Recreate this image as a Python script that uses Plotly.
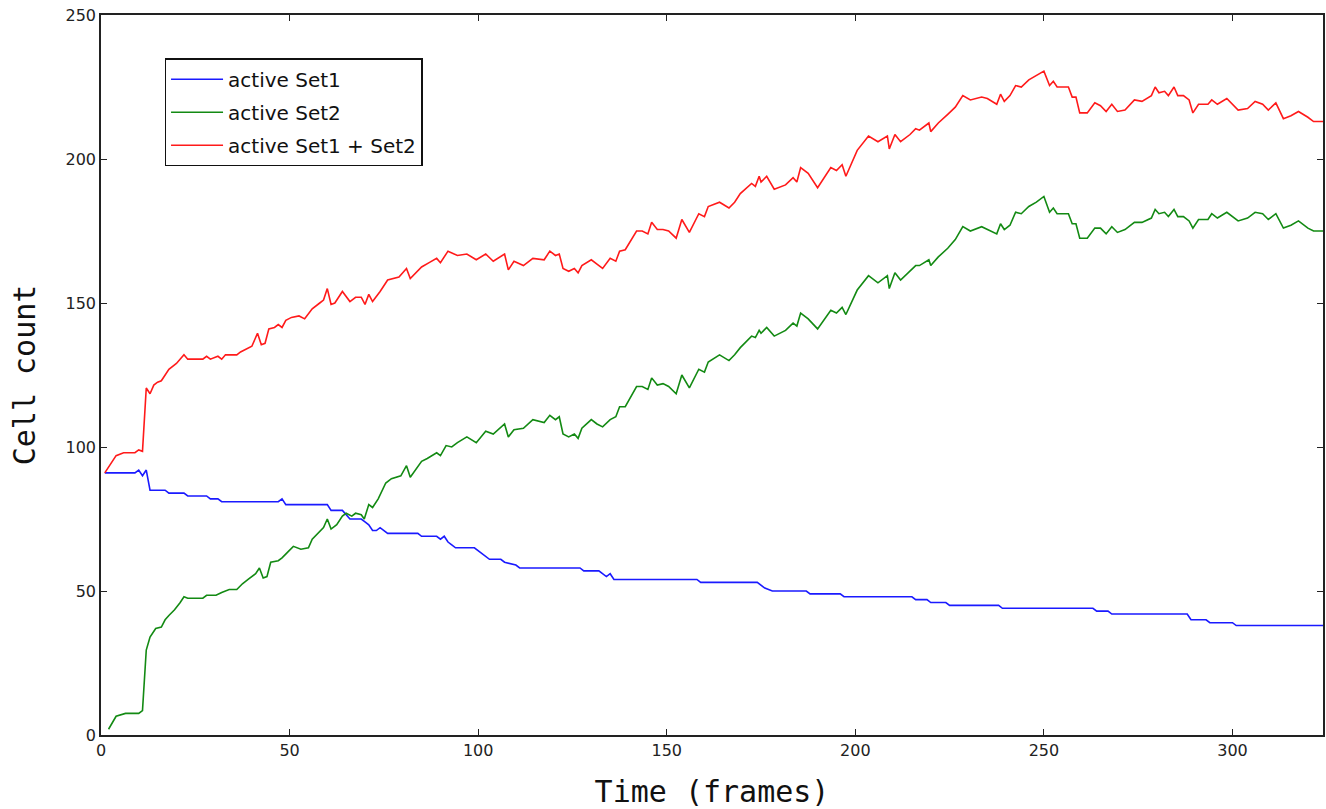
import plotly.graph_objects as go

# ---- data ----
blue_x = [1, 9, 10, 11, 12, 13, 17, 18, 22, 23, 28, 29, 31, 32, 47, 48, 49, 60,
          61, 64, 66, 69, 70, 71, 72, 73, 74, 76, 84, 85, 89, 90, 91, 92, 93, 94,
          99, 101, 102, 103, 106, 107, 110, 111, 127, 128, 132, 133, 134, 135, 136,
          158, 159, 174, 175, 176, 178, 187, 188, 196, 197, 215, 216, 219, 220, 224,
          225, 238, 239, 263, 264, 267, 268, 288, 289, 293, 294, 300, 301, 324]
blue_y = [91, 91, 92, 90, 92, 85, 85, 84, 84, 83, 83, 82, 82, 81, 81, 82, 80, 80,
          78, 78, 75, 75, 74, 73, 71, 71, 72, 70, 70, 69, 69, 68, 69, 67, 66, 65,
          65, 63, 62, 61, 61, 60, 59, 58, 58, 57, 57, 56, 55, 56, 54,
          54, 53, 53, 52, 51, 50, 50, 49, 49, 48, 48, 47, 47, 46, 46,
          45, 45, 44, 44, 43, 43, 42, 42, 40, 40, 39, 39, 38, 38]

green_pts = [
    (2, 2), (4, 6.5), (6.5, 7.5), (10, 7.5), (11, 8.5), (12, 29.5), (13, 34), (14.5, 37),
    (16, 37.5), (17, 40), (18, 41.5), (19.5, 43.5), (21, 46), (22, 48), (23, 47.5), (27, 47.5),
    (28, 48.5), (30.5, 48.5), (32, 49.5), (34, 50.5), (36, 50.5), (37.5, 52.5), (39, 54), (41, 56),
    (42, 58), (43, 54.5), (44, 55), (45, 60), (47, 60.5), (48, 61.5), (49.5, 63.5), (51, 65.5),
    (53, 64.5), (55, 65), (56, 68), (58, 70.5), (59, 72), (60, 75), (61, 71.5), (62.5, 73),
    (64, 76), (65, 77), (66.5, 76), (67.5, 77), (69, 76.5), (69.8, 75), (71, 80), (72, 79),
    (73.5, 82), (75.5, 87.5), (77, 89), (79.5, 90), (81, 93.5), (82, 89.5), (85, 95), (86.5, 96),
    (89, 98), (90, 97), (91.5, 100.5), (93, 100), (94.5, 101.5), (97, 103.5), (99.5, 101.5),
    (102, 105.5), (104, 104.5), (107, 108), (108, 103.5), (109.5, 106), (112, 106.5),
    (114.5, 109.5), (117.5, 108.5), (119, 111), (120.5, 109.5), (121.5, 110.5), (122.5, 104.5),
    (124, 103.5), (125.5, 104.5), (126.5, 103), (127.5, 106.5), (130, 109.5), (131.5, 108),
    (133, 107), (135, 109.5), (136.5, 110.5), (137.5, 114), (139, 114), (142, 121), (143.5, 121),
    (145, 120), (146, 124), (147.5, 121.5), (149, 122), (150.5, 121), (152.5, 118.5), (154, 125),
    (156, 120.5), (158.5, 127), (160, 126), (161, 129.5), (164, 132), (166.5, 130), (168, 132),
    (169.5, 134.5), (172.5, 138.5), (173.5, 138), (174.5, 140.5), (175, 139.5), (176.5, 141.5),
    (178.5, 138.5), (181.5, 140.5), (183.5, 143), (184.5, 142), (185.5, 146.5), (187.5, 144.5),
    (190, 141), (193.5, 147.5), (195, 146.5), (196.5, 148.5), (197.5, 146), (200.5, 154.5),
    (203.5, 159.5), (206, 157), (208.5, 159.5), (209, 155), (210.5, 160.5), (212, 158),
    (214.5, 161), (216, 163), (217, 163), (219.5, 165), (220, 163), (222, 166), (224.5, 169),
    (226.5, 172), (228.5, 176.5), (230.5, 175), (233.5, 176.5), (235, 175.5), (237.5, 174),
    (238.5, 177.5), (239.5, 175.5), (241, 177), (242.5, 181.5), (244, 181), (246, 183.5),
    (248, 185), (250, 187), (251.5, 181.5), (252.5, 183), (253.5, 181), (256.5, 181),
    (257.5, 177.5), (258.5, 177.5), (259.5, 172.5), (261.5, 172.5), (263.5, 176), (265, 176),
    (266.5, 174), (268, 176.5), (269.5, 174.5), (271.5, 175.5), (274, 178), (276, 178),
    (278.5, 179.5), (279.5, 182.5), (280.5, 181), (282, 181.5), (283, 180), (284.5, 182.5),
    (285.5, 180), (287, 180), (288.5, 178.5), (289.5, 176), (291, 179), (293.5, 179),
    (294.5, 181), (296, 179.5), (298.5, 181.5), (301.5, 178.5), (304, 179.5), (306, 181.5),
    (308, 181), (309.5, 179), (311.5, 181), (313.5, 176), (315.5, 177), (317.5, 178.5),
    (320, 176), (321.5, 175), (324, 175),
]

red_pts = [
    (1, 91), (4, 97), (6, 98), (9, 98), (10, 99), (11, 98.5), (12, 120.5), (13, 118.5),
    (14, 121.5), (15, 122.5), (16, 123), (17, 125), (18, 127), (20, 129), (22, 132), (23, 130.5),
    (27, 130.5), (28, 131.5), (29, 130.5), (31, 131.5), (32, 130.5), (33, 132), (36, 132),
    (37, 133), (40, 135), (41.5, 139.5), (42.5, 135.5), (43.5, 136), (44.5, 141), (46, 141.5),
    (47, 142.5), (48, 141.5), (49, 144), (50.5, 145), (52.5, 145.5), (54, 144.5), (56, 148),
    (58, 150), (59, 151), (60, 155), (61, 149.5), (62, 150), (64, 154), (66, 150.5),
    (67.5, 152), (69, 152), (70, 149.5), (71, 153), (72, 150.5), (74, 154), (76, 158), (79, 159),
    (81, 162), (82, 158.5), (85, 162.5), (87, 164), (89, 165.5), (90, 164), (92, 168),
    (94.5, 166.5), (97, 167), (99.5, 165), (102, 167), (104, 164.5), (107, 167), (108, 161.5),
    (109.5, 164.5), (112, 163), (114.5, 165.5), (117.5, 165), (119, 168), (120.5, 166.5),
    (121.5, 167), (122.5, 162), (124, 161), (125.5, 162), (126.5, 160.5), (127.5, 163),
    (130, 165), (131.5, 163.5), (133, 162), (135, 165.5), (136.5, 164.5), (137.5, 168),
    (139, 168.5), (142, 175), (143.5, 175), (145, 174), (146, 178), (147.5, 175.5), (149, 175.5),
    (150.5, 175), (152.5, 172.5), (154, 179), (156, 174.5), (158.5, 181), (160, 180),
    (161, 183.5), (164, 185), (166.5, 183), (168, 185), (169.5, 188), (172.5, 191.5),
    (173.5, 190.5), (174.5, 194), (175, 192), (176.5, 194), (178.5, 189.5), (181.5, 191),
    (183.5, 193.5), (184.5, 192), (185.5, 197), (187.5, 195), (190, 190), (193.5, 197),
    (195, 196), (196.5, 198), (197.5, 194), (200.5, 203), (203.5, 208), (206, 206),
    (208.5, 208), (209, 203.5), (210.5, 208.5), (212, 206), (214.5, 208.5), (216, 210.5),
    (217, 210), (219.5, 212.5), (220, 209.5), (222, 212.5), (224.5, 215.5), (226.5, 218),
    (228.5, 222), (230.5, 220.5), (233.5, 221.5), (235, 221), (237.5, 219), (238.5, 222.5),
    (239.5, 220), (241, 222), (242.5, 225.5), (244, 225), (246, 227.5), (248, 229),
    (250, 230.5), (251.5, 225.5), (252.5, 227), (253.5, 225), (256.5, 225), (257.5, 221.5),
    (258.5, 221.5), (259.5, 216), (261.5, 216), (263.5, 219.5), (265, 218.5), (266.5, 216.5),
    (268, 219), (269.5, 216.5), (271.5, 217), (274, 220.5), (276, 220), (278.5, 222),
    (279.5, 225), (280.5, 223), (282, 223.5), (283, 222), (284.5, 225), (285.5, 222),
    (287, 222), (288.5, 220.5), (289.5, 216), (291, 219), (293.5, 219), (294.5, 220.5),
    (296, 219), (298.5, 221), (301.5, 217), (304, 217.5), (306, 220), (308, 219),
    (309.5, 217), (311.5, 219.5), (313.5, 214), (315.5, 215), (317.5, 216.5), (320, 214.5),
    (321.5, 213), (324, 213),
]
green_x = [p[0] for p in green_pts]
green_y = [p[1] for p in green_pts]
red_x = [p[0] for p in red_pts]
red_y = [p[1] for p in red_pts]

x_ticks = [0, 50, 100, 150, 200, 250, 300]
y_ticks = [0, 50, 100, 150, 200, 250]

fig = go.Figure()
fig.add_trace(go.Scatter(x=blue_x, y=blue_y, mode="lines", name="active Set1",
                         legendgroup="a", line=dict(color="#1a1aff", width=1.6)))
fig.add_trace(go.Scatter(x=green_x, y=green_y, mode="lines", name="active Set2",
                         legendgroup="b", line=dict(color="#138a13", width=1.6)))
fig.add_trace(go.Scatter(x=red_x, y=red_y, mode="lines", name="active Set1 + Set2",
                         legendgroup="c", line=dict(color="#ff1a1a", width=1.6)))

axis_common = dict(showgrid=False, zeroline=False, showline=True, linecolor="#222",
                   linewidth=1.5, mirror="ticks", ticks="inside", ticklen=6,
                   tickcolor="#222", tickwidth=1,
                   tickfont=dict(family="DejaVu Sans", size=16, color="#222"))

fig.update_layout(
    width=1326, height=809,
    margin=dict(l=101, r=1, t=15, b=74),
    paper_bgcolor="white", plot_bgcolor="white",
    xaxis=dict(range=[0, 324], tickvals=x_ticks, ticktext=[str(v) for v in x_ticks],
               title=dict(text="Time (frames)", standoff=22,
                          font=dict(family="DejaVu Sans Mono", size=30, color="#111")),
               **axis_common),
    yaxis=dict(range=[0, 250], tickvals=y_ticks, ticktext=[str(v) for v in y_ticks],
               title=dict(text="Cell count", standoff=21,
                          font=dict(family="DejaVu Sans Mono", size=30, color="#111")),
               **axis_common),
    legend=dict(x=0.052, y=0.94, xanchor="left", yanchor="top",
                bgcolor="white", bordercolor="#111", borderwidth=1.5,
                font=dict(family="DejaVu Sans", size=20, color="#111"),
                itemwidth=52, tracegroupgap=4),
    showlegend=True,
)

fig.write_html("out.html")
